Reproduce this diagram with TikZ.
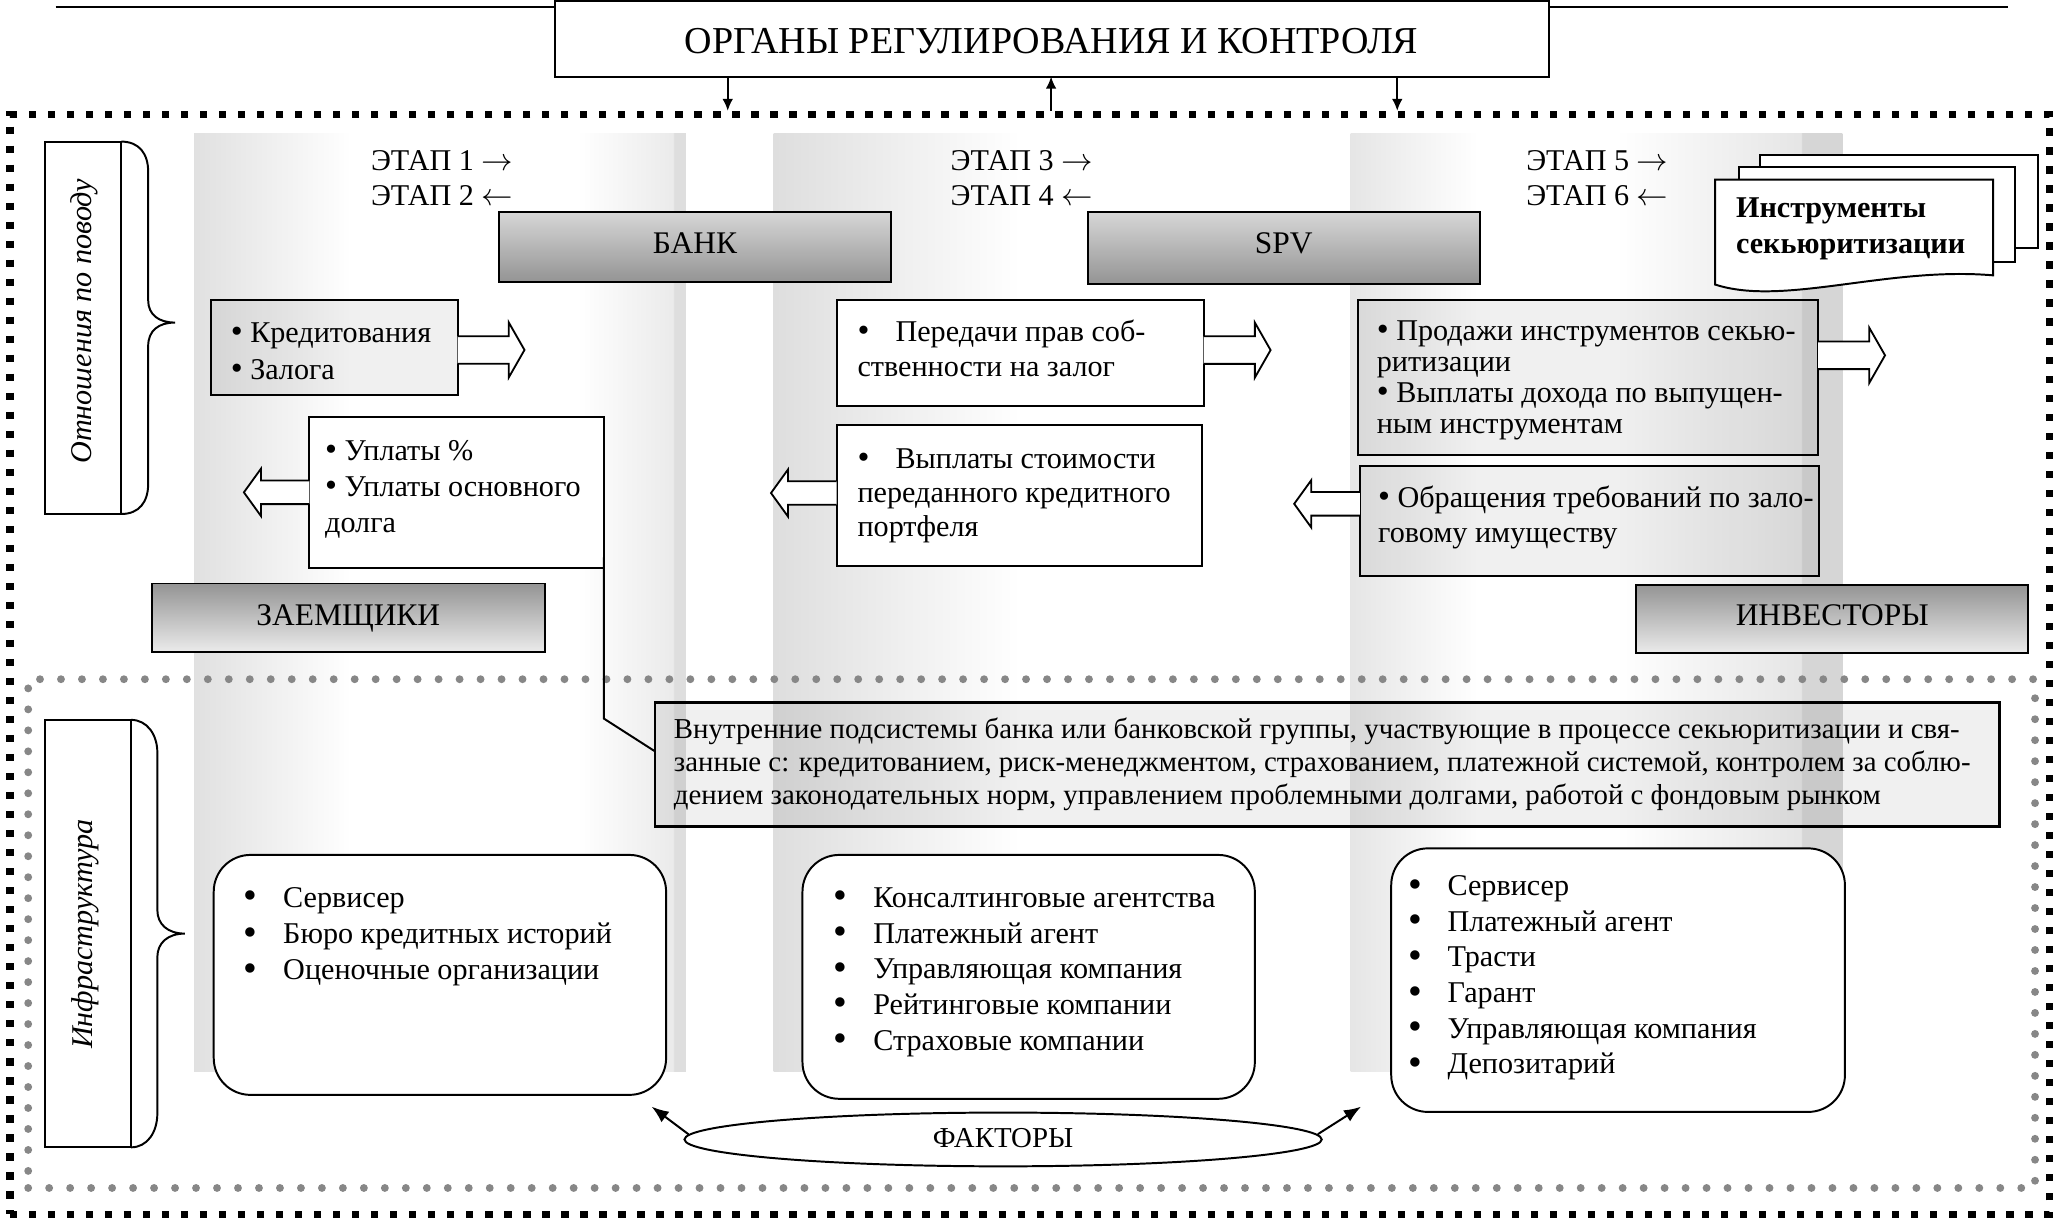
\documentclass[tikz,border=0pt]{standalone}
\usepackage{fontspec}
\setmainfont{Liberation Serif}
\usetikzlibrary{fit,calc,shapes.geometric,arrows.meta}
\colorlet{gA}{black!12}
\colorlet{gB}{black!8}
\colorlet{gC}{black!13}
\colorlet{gD}{black!13}
\colorlet{gE}{black!10}
\colorlet{gF}{black!16}
\colorlet{gG}{black!10}
\colorlet{gW}{white}
\pgfdeclarehorizontalshading{colone}{100bp}{color(0bp)=(gA); color(25bp)=(gA); color(41bp)=(gW); color(64bp)=(gW); color(73.7bp)=(gB); color(73.8bp)=(gC); color(75bp)=(gC); color(100bp)=(gC)}
\pgfdeclarehorizontalshading{coltwo}{100bp}{color(0bp)=(gD); color(25bp)=(gD); color(50bp)=(gW); color(75bp)=(gW); color(100bp)=(gW)}
\pgfdeclarehorizontalshading{colthree}{100bp}{color(0bp)=(gE); color(25bp)=(gE); color(38bp)=(gW); color(52bp)=(gW); color(70.8bp)=(gG); color(70.9bp)=(gF); color(75bp)=(gF); color(100bp)=(gF)}
\newcommand\firststrut{\rule{0pt}{9pt}}
\newcommand\tb{{\fontsize{13}{13}\selectfont\textbullet}}
\newcommand\bb{\makebox[14.5pt][l]{\tb}}
\newcommand\rb{\makebox[15pt][l]{\raisebox{-0.6pt}{\fontsize{15}{15}\selectfont\textbullet}}}
\tikzset{
  rarr/.pic={\draw[line width=0.7pt,fill=white] (0,-10.5) -- (39,-10.5) -- (39,-21) -- (51,0) -- (39,21) -- (39,10.5) -- (0,10.5);},
  larr/.pic={\draw[line width=0.7pt,fill=white] (0,-9) -- (-37,-9) -- (-37,-18) -- (-50,0) -- (-37,18) -- (-37,9) -- (0,9);}
}
\begin{document}
\begin{tikzpicture}[x=0.5pt,y=-0.5pt,
  every node/.style={inner sep=0pt,outer sep=0pt},
  bx/.style={draw,line width=0.75pt},
  frm/.style={fit={#1},inner sep=0pt},
  tinted/.style={bx,fill=black,fill opacity=0.06},
  txt/.style={anchor=north west,align=left,font=\fontsize{11.5}{#1}\selectfont},
  lbl/.style={anchor=base,font=\fontsize{12}{14}\selectfont},
  arrtop/.style={line width=0.6pt,-{Latex[length=4.5pt,width=4pt]}},
  facarr/.style={line width=0.75pt,-{Latex[length=6.5pt,width=5pt]}}
]
\useasboundingbox (0,0) rectangle (1568,930);

% gray columns
\shade[shading=colone] (148,102) rectangle (523,817);
\shade[shading=coltwo] (590,102) rectangle (966,817);
\shade[shading=colthree] (1030,102) rectangle (1405,817);

% frames
\node[frm={(7.5,87.5) (1563,926)},draw,line width=2.8pt,dash pattern=on 2.8pt off 4.45pt] (outer) {};
\node[frm={(21.5,518) (1552,906)},draw=black!47,line width=3pt,line cap=round,dash pattern=on 0pt off 8pt] (infra) {};

% title
\coordinate (lineL) at (42.5,5.5);
\coordinate (lineR) at (1531.5,5.5);
\draw[line width=0.75pt] (lineL) -- (lineR);
\node[bx,fill=white,frm={(423,1) (1181,58.5)}] (T) {};
\node[anchor=base,font=\fontsize{14.5}{17}\selectfont] (Tt) at (802,41) {ОРГАНЫ РЕГУЛИРОВАНИЯ И КОНТРОЛЯ};
\coordinate (a1) at ($(T.south west)+(132,0)$);
\coordinate (a2) at ($(T.south west)+(378.6,0)$);
\coordinate (a3) at ($(T.south west)+(642.6,0)$);
\draw[arrtop] (a1) -- ($(a1 |- outer.north)+(0,-3)$);
\draw[arrtop] ($(a2 |- outer.north)+(0,-3)$) -- (a2);
\draw[arrtop] (a3) -- ($(a3 |- outer.north)+(0,-3)$);

% left labels with braces
\node[bx,fill=white,frm={(34,108) (92.5,392)}] (L1) {};
\node[rotate=90,font=\itshape\fontsize{11.5}{14}\selectfont] (L1t) at (64,245) {Отношения по поводу};
\draw[line width=0.75pt] (L1.north east) .. controls (106,108) and (113,117) .. (113,131) -- (113,229) .. controls (113,240) and (121,246) .. (133.5,246) .. controls (121,246) and (113,252) .. (113,264) -- (113,369) .. controls (113,383) and (106,392) .. (L1.south east);
\node[bx,fill=white,frm={(34,549) (100,875)}] (L2) {};
\node[rotate=90,font=\itshape\fontsize{11.5}{14}\selectfont] (L2t) at (65,712.5) {Инфраструктура};
\draw[line width=0.75pt] (L2.north east) .. controls (112,549) and (120,560) .. (120,574) -- (120,694) .. controls (120,705) and (128,712) .. (141,712) .. controls (128,712) and (120,719) .. (120,730) -- (120,849) .. controls (120,864) and (112,875) .. (L2.south east);

% ETAP labels
\node[txt=13.3pt] (e12) at (283,112) {\firststrut ЭТАП 1 $\rightarrow$\\ЭТАП 2 $\leftarrow$};
\node[txt=13.3pt] (e34) at (725,112) {\firststrut ЭТАП 3 $\rightarrow$\\ЭТАП 4 $\leftarrow$};
\node[txt=13.3pt] (e56) at (1164,112) {\firststrut ЭТАП 5 $\rightarrow$\\ЭТАП 6 $\leftarrow$};

% participants
\node[bx,frm={(380.5,162) (679.5,215)},top color=black!16,bottom color=black!42] (bank) {};
\node[lbl] (bankt) at (530,193) {БАНК};
\node[bx,frm={(829.5,162) (1128.5,216.5)},top color=black!16,bottom color=black!42] (spv) {};
\node[lbl] (spvt) at (979,193) {SPV};
\node[bx,frm={(115.8,445) (415.4,497)},top color=black!42,bottom color=black!8] (borr) {};
\node[lbl] (borrt) at (265.6,477) {ЗАЕМЩИКИ};
\node[bx,frm={(1248,446) (1546.7,498)},top color=black!42,bottom color=black!8] (inv) {};
\node[lbl] (invt) at (1397.4,477) {ИНВЕСТОРЫ};

% instruments (multi-document)
\draw[bx,fill=white] (1342,118) rectangle (1554,189);
\draw[bx,fill=white] (1326,127) rectangle (1537,200);
\draw[bx,fill=white] (1308,137) -- (1520,137) -- (1520,210) .. controls (1440,203) and (1360,234) .. (1308,217) -- cycle;
\node[anchor=north west,align=left,font=\bfseries\fontsize{11.5}{13.5}\selectfont] (instr) at (1324,148) {\firststrut Инструменты\\секьюритизации};

% relation boxes
\node[tinted,frm={(160.7,228.5) (349,301.3)}] (A) {};
\node[txt=13.8pt] (At) at (176,243.5) {\firststrut\tb\ Кредитования\\\tb\ Залога};
\node[bx,fill=white,frm={(236,318) (460.5,433)}] (B) {};
\node[txt=13.75pt] (Bt) at (248,333) {\firststrut\tb\ Уплаты \%\\\tb\ Уплаты основного\\долга};
\node[bx,fill=white,frm={(638,229) (918,310)}] (C) {};
\node[txt=13.3pt] (Ct) at (654,242.5) {\firststrut\bb Передачи прав соб-\\ственности на залог};
\node[bx,fill=white,frm={(638,324) (917,432)}] (D) {};
\node[txt=13pt] (Dt) at (654,339) {\firststrut\bb Выплаты стоимости\\переданного кредитного\\портфеля};
\node[tinted,frm={(1036,229) (1386.6,347)}] (E) {};
\node[txt=11.9pt] (Et) at (1050,241.5) {\firststrut\tb\ Продажи инструментов секью-\\ритизации\\\tb\ Выплаты дохода по выпущен-\\ным инструментам};
\node[tinted,frm={(1037,355.5) (1387,439)}] (F) {};
\node[txt=13.3pt] (Ft) at (1051,369) {\firststrut\tb\ Обращения требований по зало-\\говому имуществу};

\pic at ($(A.east)+(0,2)$) {rarr};
\pic at (B.west) {larr};
\pic at ($(C.east)+(0,-2.5)$) {rarr};
\pic at ($(D.west)+(0,-2)$) {larr};
\pic at ($(E.east)+(0,-17)$) {rarr};
\pic at ($(F.west)+(0,-13)$) {larr};

% internal subsystems
\node[tinted,line width=1.1pt,frm={(499.5,536) (1524.6,630)}] (G) {};
\node[anchor=north west,align=left,font=\fontsize{11}{12.5}\selectfont] (Gt) at (514,545.5) {\firststrut Внутренние подсистемы банка или банковской группы, участвующие в процессе секьюритизации и свя-\\занные с: кредитованием, риск-менеджментом, страхованием, платежной системой, контролем за соблю-\\дением законодательных норм, управлением проблемными долгами, работой с фондовым рынком};
\draw[line width=0.75pt] ($(B.south east)+(0,-8)$) -- ++(0,123) -- ($(G.north west)+(0,37)$);

% infrastructure boxes
\node[bx,fill=white,rounded corners=14pt,frm={(163,652) (508,835)}] (R1) {};
\node[txt=13.75pt] (R1t) at (186,674) {\firststrut\rb Сервисер\\\rb Бюро кредитных историй\\\rb Оценочные организации};
\node[bx,fill=white,rounded corners=14pt,frm={(612,652) (957,838)}] (R2) {};
\node[txt=13.6pt] (R2t) at (636,674) {\firststrut\rb Консалтинговые агентства\\\rb Платежный агент\\\rb Управляющая компания\\\rb Рейтинговые компании\\\rb Страховые компании};
\node[bx,fill=white,rounded corners=14pt,frm={(1061,647) (1407,848)}] (R3) {};
\node[txt=13.6pt] (R3t) at (1074,665) {\firststrut\rb Сервисер\\\rb Платежный агент\\\rb Трасти\\\rb Гарант\\\rb Управляющая компания\\\rb Депозитарий};

% factors
\node[draw,ellipse,fill=white,line width=0.75pt,minimum width=243pt,minimum height=20.5pt] (fac) at (765,869) {};
\node[anchor=base,font=\fontsize{11}{13}\selectfont] (fact) at (765,875) {ФАКТОРЫ};
\coordinate (t1) at ($(R1.south east)+(-11,9)$);
\coordinate (t2) at ($(R3.south west)+(-23,-4)$);
\draw[facarr] ($(fac.west)+(3,-4)$) -- (t1);
\draw[facarr] ($(fac.east)+(-3,-4)$) -- (t2);
\end{tikzpicture}
\end{document}
